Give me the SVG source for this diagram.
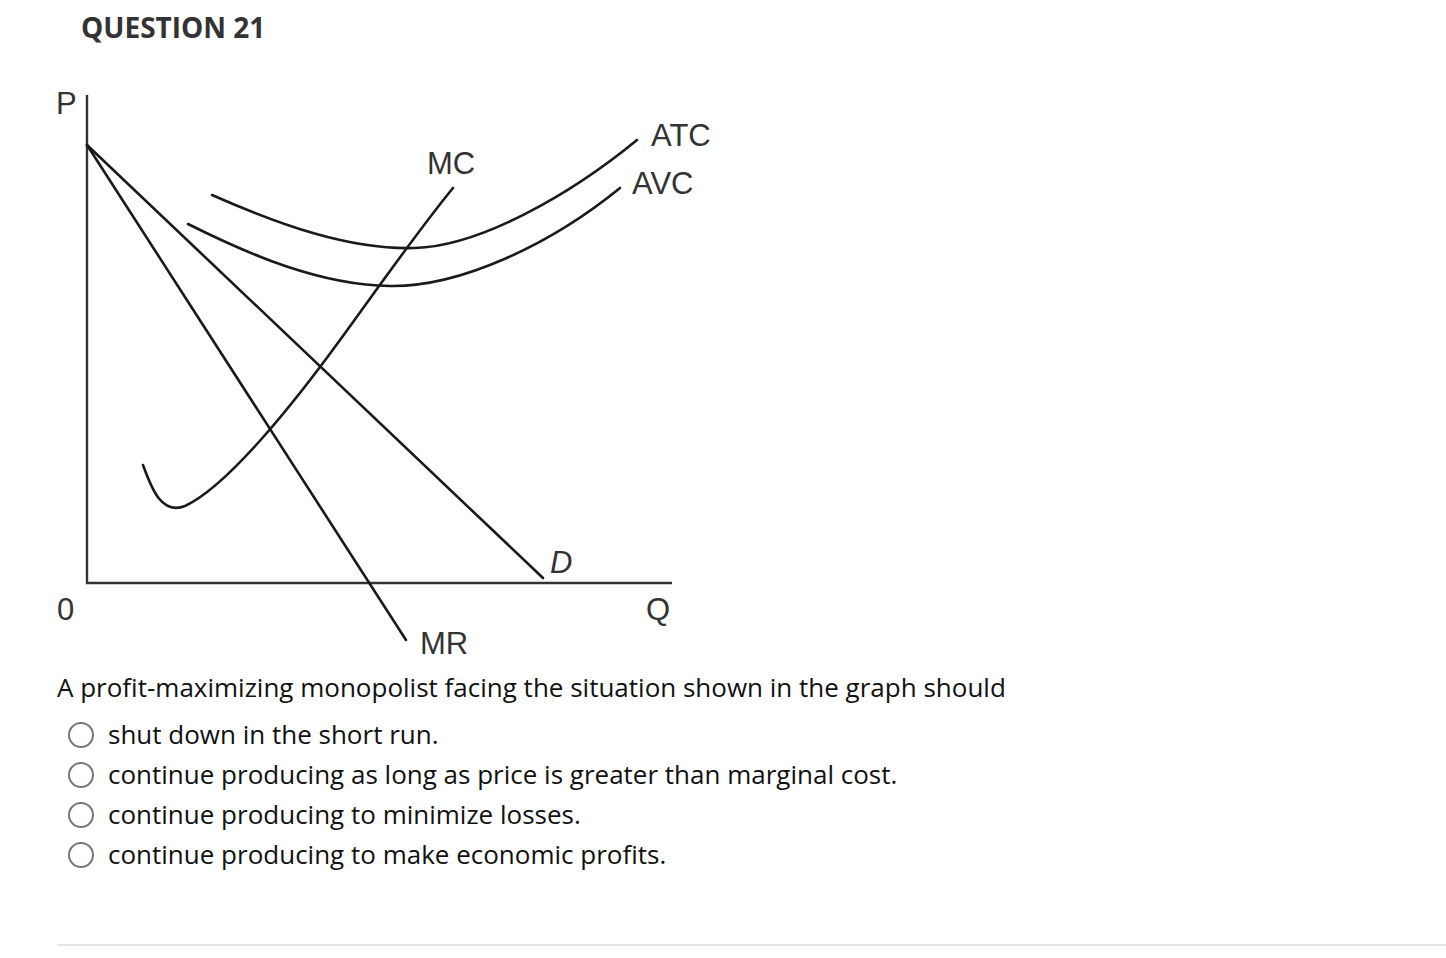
<svg xmlns="http://www.w3.org/2000/svg" width="1446" height="958" viewBox="0 0 1446 958">
<style>
.curve{fill:none;stroke:#1a1a1a;stroke-width:2.6;stroke-linecap:round}
.axis{fill:none;stroke:#333;stroke-width:2.4}
.lbl{font-family:"Liberation Sans","Noto Sans",sans-serif;font-size:31px;fill:#333}
.q{font-family:"Open Sans","Noto Sans",sans-serif;font-size:26px;fill:#111}
.radio{fill:#fff;stroke:#777;stroke-width:2}
</style>
<rect width="1446" height="958" fill="#fff"/>
<text id="title" x="81" y="38" font-family="'Open Sans','Noto Sans',sans-serif" font-weight="bold" font-size="28" fill="#333">QUESTION 21</text>
<g id="axes">
<line class="axis" x1="87" y1="95" x2="87" y2="583"/>
<line class="axis" x1="86" y1="583" x2="672" y2="583"/>
<text class="lbl" x="56" y="114">P</text>
<text class="lbl" x="57" y="620">0</text>
<text class="lbl" x="646" y="620">Q</text>
</g>
<g id="connectors">
<g id="D"><line class="curve" x1="87" y1="145" x2="543" y2="578"/><text class="lbl" x="550" y="573" font-style="italic">D</text></g>
<g id="MR"><line class="curve" x1="87" y1="145" x2="406" y2="640"/><text class="lbl" x="420" y="654">MR</text></g>
<g id="MC"><path class="curve" d="M143,465 C152,490 162,515 185,506 C230,485 300,395 340,340 C380,285 420,228 453,188"/><text class="lbl" x="427" y="174">MC</text></g>
<g id="ATC"><path class="curve" d="M212,195 C280,225 350,250 415,248 C480,246 570,195 637,140"/><text class="lbl" x="651" y="146">ATC</text></g>
<g id="AVC"><path class="curve" d="M188,224 C250,255 320,285 390,286 C460,287 550,245 620,188"/><text class="lbl" x="632" y="194">AVC</text></g>
</g>
<text id="question" class="q" x="57" y="697">A profit-maximizing monopolist facing the situation shown in the graph should</text>
<g id="opt1"><circle class="radio" cx="81" cy="735" r="12"/><text class="q" x="108" y="744">shut down in the short run.</text></g>
<g id="opt2"><circle class="radio" cx="81" cy="775" r="12"/><text class="q" x="108" y="784">continue producing as long as price is greater than marginal cost.</text></g>
<g id="opt3"><circle class="radio" cx="81" cy="815" r="12"/><text class="q" x="108" y="824">continue producing to minimize losses.</text></g>
<g id="opt4"><circle class="radio" cx="81" cy="855" r="12"/><text class="q" x="108" y="864">continue producing to make economic profits.</text></g>
<line id="rule" x1="57" y1="945" x2="1446" y2="945" stroke="#ddd" stroke-width="1.5"/>
</svg>
